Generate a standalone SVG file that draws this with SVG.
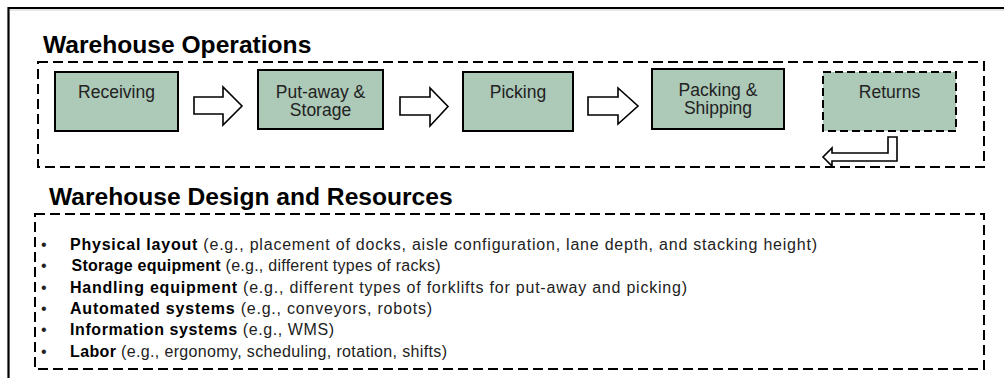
<svg xmlns="http://www.w3.org/2000/svg" width="1004" height="378" viewBox="0 0 1004 378">
<style>
.frame{fill:none;stroke:#000;stroke-width:2.2}
.dbox{fill:none;stroke:#000;stroke-width:2;stroke-dasharray:10 5}
.node{fill:#adc9b7;stroke:#000;stroke-width:2}
.nodedash{fill:#adc9b7;stroke:#000;stroke-width:2;stroke-dasharray:8 4}
.ntext{font-family:"Liberation Sans",Arial,sans-serif;font-size:17.5px;fill:#222;text-anchor:middle}
.title{font-family:"Liberation Sans",Arial,sans-serif;font-size:24.6px;font-weight:bold;fill:#000}
.item{font-family:"Liberation Sans",Arial,sans-serif;font-size:16px;fill:#222}
.b{font-weight:bold;fill:#000}
.arrow{fill:#fff;stroke:#000;stroke-width:1.6;stroke-linejoin:miter}
</style>
<rect width="1004" height="378" fill="#fff"/>
<g id="frame">
<path class="frame" d="M8.5,378 V8 H1004"/>
<line x1="10" y1="10" x2="1004" y2="10" stroke="#ccc" stroke-width="1"/>
</g>
<g id="operations">
<text class="title" x="43" y="53">Warehouse Operations</text>
<rect class="dbox" x="38" y="62" width="946" height="105"/>
</g>
<g id="receiving">
<rect class="node" x="55" y="72" width="123" height="59"/>
<text class="ntext" x="116.5" y="98">Receiving</text>
</g>
<g id="putaway">
<rect class="node" x="258" y="70" width="125" height="59"/>
<text class="ntext" x="320.5" y="98">Put-away &amp;</text>
<text class="ntext" x="320.5" y="116">Storage</text>
</g>
<g id="picking">
<rect class="node" x="463" y="72" width="110" height="59"/>
<text class="ntext" x="518" y="98">Picking</text>
</g>
<g id="packing">
<rect class="node" x="652" y="69" width="132" height="60"/>
<text class="ntext" x="718" y="96">Packing &amp;</text>
<text class="ntext" x="718" y="114">Shipping</text>
</g>
<g id="returns">
<rect class="nodedash" x="823" y="72" width="133" height="59"/>
<text class="ntext" x="889.5" y="98">Returns</text>
</g>
<g id="connectors">
<polygon class="arrow" points="194,97 223,97 223,87 242,106 223,125 223,114 194,114"/>
<polygon class="arrow" points="400,97 430,97 430,88 448,106.5 430,126 430,115 400,115"/>
<polygon class="arrow" points="588,97 618,97 618,88 638,106 618,124 618,115 588,115"/>
<polygon class="arrow" points="888,137 897,137 897,161 832,161 832,166 823,157 832,148 832,153 888,153"/>
</g>
<g id="resources">
<text class="title" x="49" y="205">Warehouse Design and Resources</text>
<rect class="dbox" x="35" y="214" width="949" height="155"/>
<g id="items" class="item">
<text x="41" y="249.5">•</text>
<text x="41" y="271">•</text>
<text x="41" y="292.5">•</text>
<text x="41" y="314">•</text>
<text x="41" y="335">•</text>
<text x="41" y="356.5">•</text>
<text x="70" y="249.5" textLength="747" lengthAdjust="spacing"><tspan class="b">Physical layout</tspan> (e.g., placement of docks, aisle configuration, lane depth, and stacking height)</text>
<text x="71.5" y="271" textLength="369" lengthAdjust="spacing"><tspan class="b">Storage equipment</tspan> (e.g., different types of racks)</text>
<text x="70" y="292.5" textLength="617" lengthAdjust="spacing"><tspan class="b">Handling equipment</tspan> (e.g., different types of forklifts for put-away and picking)</text>
<text x="70" y="314" textLength="362" lengthAdjust="spacing"><tspan class="b">Automated systems</tspan> (e.g., conveyors, robots)</text>
<text x="70" y="335" textLength="264" lengthAdjust="spacing"><tspan class="b">Information systems</tspan> (e.g., WMS)</text>
<text x="70" y="356.5" textLength="377" lengthAdjust="spacing"><tspan class="b">Labor</tspan> (e.g., ergonomy, scheduling, rotation, shifts)</text>
</g>
</g>
</svg>
